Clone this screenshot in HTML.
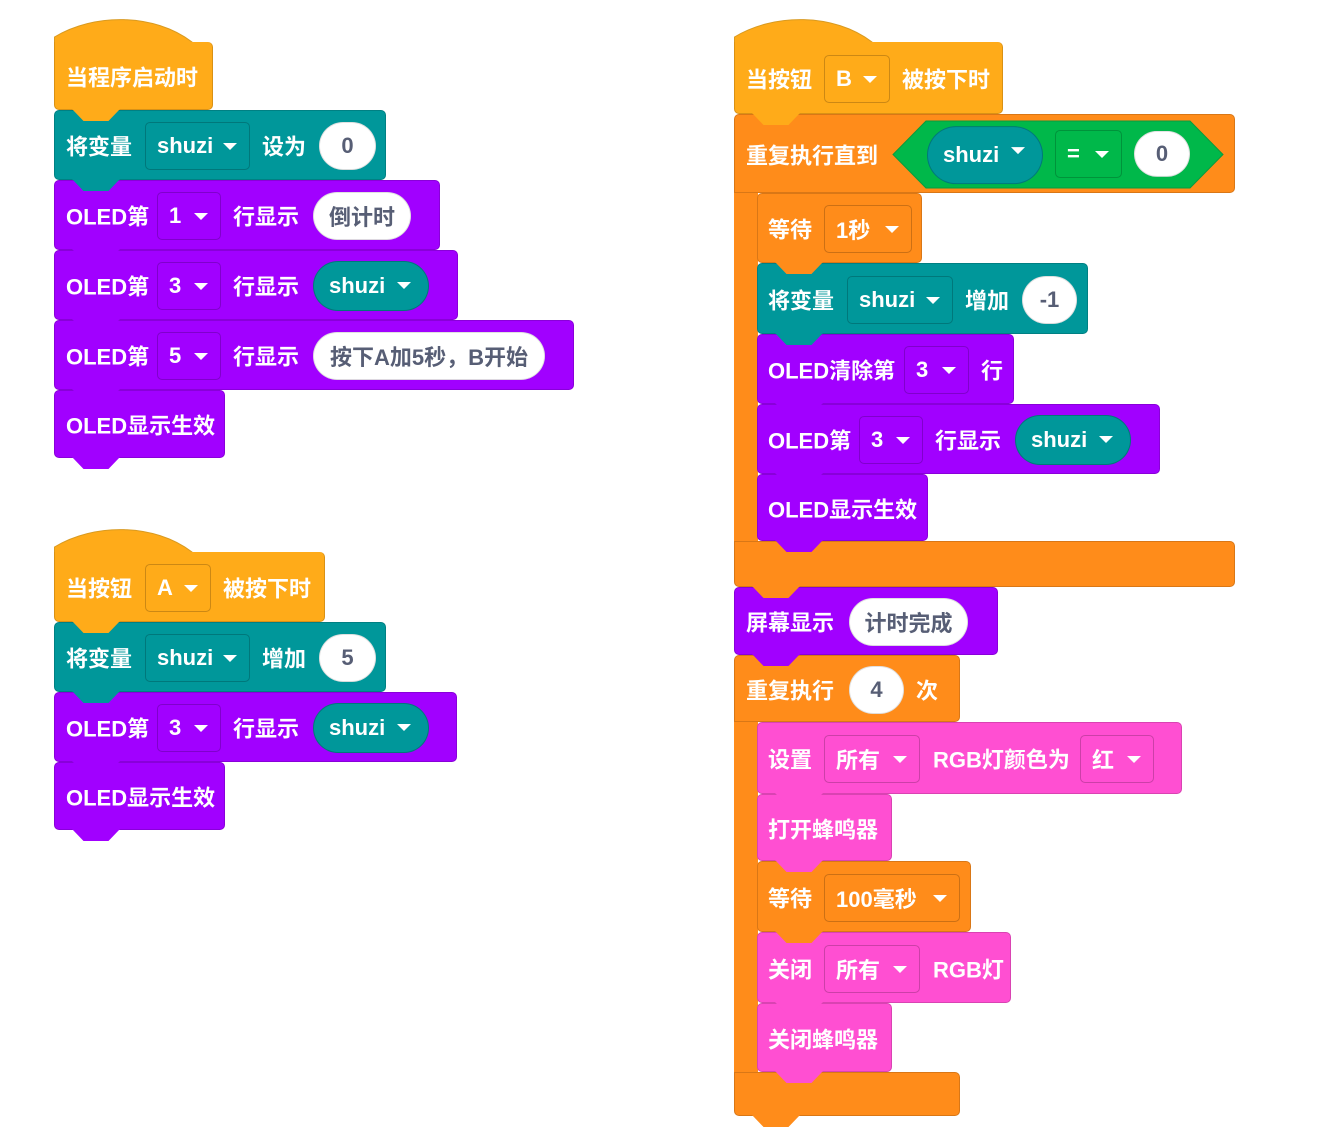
<!DOCTYPE html>
<html><head><meta charset="utf-8"><style>
body{margin:0;width:1318px;height:1145px;background:#fff;position:relative;overflow:hidden;font-family:"Liberation Sans","Noto Sans CJK SC",sans-serif;}
.b{position:absolute;box-sizing:border-box;border-radius:5px;border:1px solid rgba(0,0,0,.15);color:#fff;font-weight:bold;font-size:22px;}
.b>*{position:absolute;top:50%;transform:translateY(-48%);white-space:nowrap;}
.t{line-height:24px;margin-top:2px;}
.dd{height:48px;box-sizing:border-box;border:1px solid rgba(0,0,0,.2);border-radius:5px;display:flex;align-items:center;padding-left:11px;}
.dd::after{content:"";position:absolute;right:12px;top:20px;border-left:7px solid transparent;border-right:7px solid transparent;border-top:7px solid #fff;}
.ov{height:48px;background:#fff;color:#575e75;border-radius:24px;display:flex;align-items:center;justify-content:center;border:1px solid rgba(0,0,0,.12);box-sizing:border-box;}
.pl{height:50px;border-radius:25px;display:flex;align-items:center;padding-left:15px;box-sizing:border-box;border:1px solid rgba(0,0,0,.2);}
.pl::after{content:"";position:absolute;right:17px;top:20px;border-left:7px solid transparent;border-right:7px solid transparent;border-top:7px solid #fff;}
.tab{position:absolute;width:48px;height:12px;clip-path:polygon(0 0,100% 0,76% 100%,24% 100%);z-index:5;}
.hat{position:absolute;}
.arm{position:absolute;width:24px;}
.Y{background:#ffab19}.T{background:#00979a}.P{background:#a100ff}.O{background:#ff8c1a}.K{background:#ff4fd2}.G{background:#00b84a}
</style></head><body>

<!-- hat 1 -->
<svg class="hat" style="left:54px;top:17px" width="160" height="30"><path d="M0.5,29 L0.5,20 C40,-4 100,-4 138,25 L140,30 Z" fill="#ffab19" stroke="#d99a20"/></svg>
<div class="b Y" style="left:54px;top:42px;width:159px;height:68px;border-top:none;border-top-left-radius:0"><span class="t" style="left:11px">当程序启动时</span></div>
<div class="tab Y" style="left:72px;top:109px"></div>
<div class="b T" style="left:54px;top:110px;width:332px;height:70px"><span class="t" style="left:11px">将变量</span><span class="dd" style="left:90px;width:105px">shuzi</span><span class="t" style="left:207px">设为</span><span class="ov" style="left:264px;width:57px">0</span></div>
<div class="tab T" style="left:72px;top:179px"></div>
<div class="b P" style="left:54px;top:180px;width:386px;height:70px"><span class="t" style="left:11px">OLED第</span><span class="dd" style="left:102px;width:64px">1</span><span class="t" style="left:178px">行显示</span><span class="ov" style="left:258px;width:98px">倒计时</span></div>
<div class="tab P" style="left:72px;top:249px"></div>
<div class="b P" style="left:54px;top:250px;width:404px;height:70px"><span class="t" style="left:11px">OLED第</span><span class="dd" style="left:102px;width:64px">3</span><span class="t" style="left:178px">行显示</span><span class="pl T" style="left:258px;width:116px">shuzi</span></div>
<div class="tab P" style="left:72px;top:319px"></div>
<div class="b P" style="left:54px;top:320px;width:520px;height:70px"><span class="t" style="left:11px">OLED第</span><span class="dd" style="left:102px;width:64px">5</span><span class="t" style="left:178px">行显示</span><span class="ov" style="left:258px;width:232px">按下A加5秒，B开始</span></div>
<div class="tab P" style="left:72px;top:389px"></div>
<div class="b P" style="left:54px;top:390px;width:171px;height:68px"><span class="t" style="left:11px">OLED显示生效</span></div>
<div class="tab P" style="left:72px;top:457px"></div>

<!-- hat 2 -->
<svg class="hat" style="left:54px;top:527px" width="160" height="30"><path d="M0.5,29 L0.5,20 C40,-4 100,-4 138,25 L140,30 Z" fill="#ffab19" stroke="#d99a20"/></svg>
<div class="b Y" style="left:54px;top:552px;width:271px;height:70px;border-top:none;border-top-left-radius:0"><span class="t" style="left:11px">当按钮</span><span class="dd" style="left:90px;width:66px">A</span><span class="t" style="left:168px">被按下时</span></div>
<div class="tab Y" style="left:72px;top:621px"></div>
<div class="b T" style="left:54px;top:622px;width:332px;height:70px"><span class="t" style="left:11px">将变量</span><span class="dd" style="left:90px;width:105px">shuzi</span><span class="t" style="left:207px">增加</span><span class="ov" style="left:264px;width:57px">5</span></div>
<div class="tab T" style="left:72px;top:691px"></div>
<div class="b P" style="left:54px;top:692px;width:403px;height:70px"><span class="t" style="left:11px">OLED第</span><span class="dd" style="left:102px;width:64px">3</span><span class="t" style="left:178px">行显示</span><span class="pl T" style="left:258px;width:116px">shuzi</span></div>
<div class="tab P" style="left:72px;top:761px"></div>
<div class="b P" style="left:54px;top:762px;width:171px;height:68px"><span class="t" style="left:11px">OLED显示生效</span></div>
<div class="tab P" style="left:72px;top:829px"></div>

<!-- right: hat B -->
<svg class="hat" style="left:734px;top:17px" width="160" height="30"><path d="M0.5,29 L0.5,20 C40,-4 100,-4 138,25 L140,30 Z" fill="#ffab19" stroke="#d99a20"/></svg>
<div class="b Y" style="left:734px;top:42px;width:269px;height:72px;border-top:none;border-top-left-radius:0"><span class="t" style="left:11px">当按钮</span><span class="dd" style="left:89px;width:66px">B</span><span class="t" style="left:167px">被按下时</span></div>
<div class="tab Y" style="left:752px;top:113px"></div>
<!-- repeat until -->
<div class="arm O" style="left:734px;top:185px;height:365px"></div>
<div class="b O" style="left:734px;top:114px;width:501px;height:79px;border-bottom-left-radius:0"><span class="t" style="left:11px">重复执行直到</span></div>
<div class="b O" style="left:734px;top:541px;width:501px;height:46px;border-top-left-radius:0"></div>
<div class="tab O" style="left:752px;top:586px"></div>
<svg style="position:absolute;left:892px;top:120px" width="332" height="69"><polygon points="34,1 298,1 331,34.5 298,68 34,68 1,34.5" fill="#00b84a" stroke="#0a9a3e"/></svg>
<div class="b" style="left:927px;top:125px;width:116px;height:58px;border:none"><span class="pl T" style="left:0;width:116px;height:58px;border-radius:29px">shuzi</span></div>
<div class="b" style="left:1055px;top:129px;width:67px;height:48px;border:none"><span class="dd G" style="left:0;width:67px;">=</span></div>
<div class="b" style="left:1134px;top:130px;width:56px;height:46px;border:none"><span class="ov" style="left:0;width:56px;height:46px">0</span></div>

<div class="b O" style="left:757px;top:193px;width:165px;height:70px"><span class="t" style="left:10px">等待</span><span class="dd" style="left:66px;width:88px">1秒</span></div>
<div class="tab O" style="left:775px;top:262px"></div>
<div class="b T" style="left:757px;top:263px;width:331px;height:71px"><span class="t" style="left:10px">将变量</span><span class="dd" style="left:89px;width:106px">shuzi</span><span class="t" style="left:207px">增加</span><span class="ov" style="left:264px;width:55px">-1</span></div>
<div class="tab T" style="left:775px;top:333px"></div>
<div class="b P" style="left:757px;top:334px;width:257px;height:70px"><span class="t" style="left:10px">OLED清除第</span><span class="dd" style="left:146px;width:65px">3</span><span class="t" style="left:223px">行</span></div>
<div class="tab P" style="left:775px;top:403px"></div>
<div class="b P" style="left:757px;top:404px;width:403px;height:70px"><span class="t" style="left:10px">OLED第</span><span class="dd" style="left:101px;width:64px">3</span><span class="t" style="left:177px">行显示</span><span class="pl T" style="left:257px;width:116px">shuzi</span></div>
<div class="tab P" style="left:775px;top:473px"></div>
<div class="b P" style="left:757px;top:474px;width:171px;height:67px"><span class="t" style="left:10px">OLED显示生效</span></div>
<div class="tab P" style="left:775px;top:540px"></div>

<div class="b P" style="left:734px;top:587px;width:264px;height:68px"><span class="t" style="left:11px">屏幕显示</span><span class="ov" style="left:114px;width:119px">计时完成</span></div>
<div class="tab P" style="left:752px;top:654px"></div>

<!-- repeat 4 -->
<div class="arm O" style="left:734px;top:715px;height:365px"></div>
<div class="b O" style="left:734px;top:655px;width:226px;height:67px;border-bottom-left-radius:0"><span class="t" style="left:11px">重复执行</span><span class="ov" style="left:114px;width:55px">4</span><span class="t" style="left:181px">次</span></div>
<div class="b O" style="left:734px;top:1072px;width:226px;height:44px;border-top-left-radius:0"></div>
<div class="tab O" style="left:752px;top:1115px"></div>

<div class="b K" style="left:757px;top:722px;width:425px;height:72px"><span class="t" style="left:10px">设置</span><span class="dd" style="left:66px;width:96px">所有</span><span class="t" style="left:175px">RGB灯颜色为</span><span class="dd" style="left:322px;width:74px">红</span></div>
<div class="tab K" style="left:775px;top:793px"></div>
<div class="b K" style="left:757px;top:794px;width:135px;height:67px"><span class="t" style="left:10px">打开蜂鸣器</span></div>
<div class="tab K" style="left:775px;top:860px"></div>
<div class="b O" style="left:757px;top:861px;width:214px;height:71px"><span class="t" style="left:10px">等待</span><span class="dd" style="left:66px;width:136px">100毫秒</span></div>
<div class="tab O" style="left:775px;top:931px"></div>
<div class="b K" style="left:757px;top:932px;width:254px;height:71px"><span class="t" style="left:10px">关闭</span><span class="dd" style="left:66px;width:96px">所有</span><span class="t" style="left:175px">RGB灯</span></div>
<div class="tab K" style="left:775px;top:1002px"></div>
<div class="b K" style="left:757px;top:1003px;width:135px;height:69px"><span class="t" style="left:10px">关闭蜂鸣器</span></div>
<div class="tab K" style="left:775px;top:1071px"></div>

</body></html>
